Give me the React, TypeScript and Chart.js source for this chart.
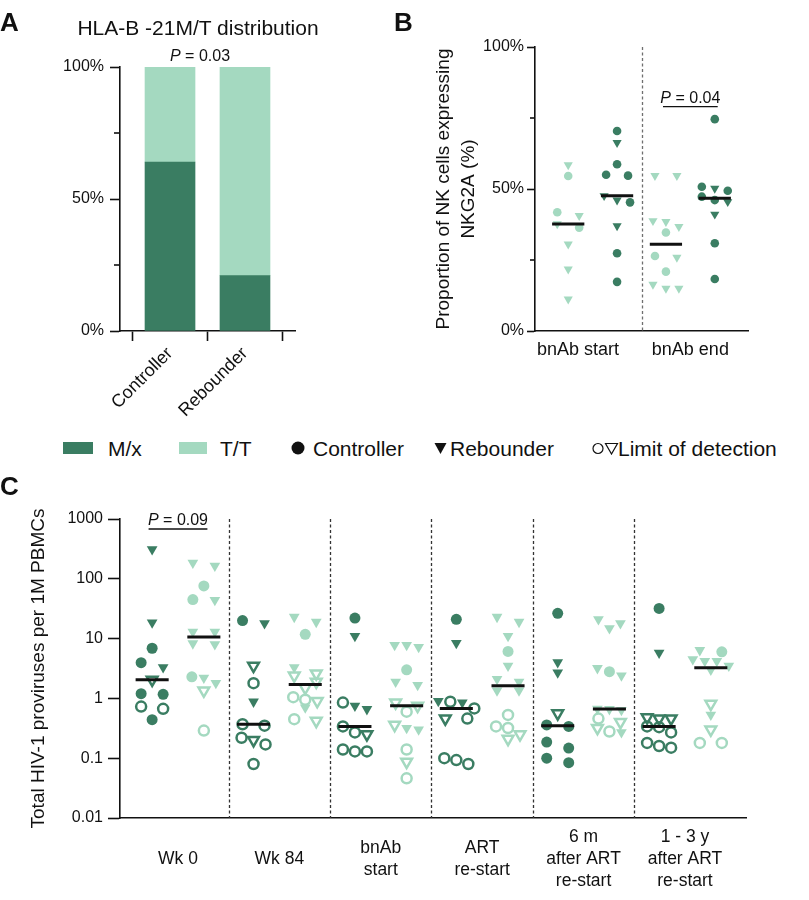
import { useEffect, useRef } from "react";
import Chart from "chart.js/auto";

// [value, kind]  kind: C = controller, R = rebounder, lower case = at limit of detection (open marker)
type Pt = [number, string];

const DARK = "#3a7d62"; // M/x
const LIGHT = "#a4d9c0"; // T/T
const INK = "#111111";
const FONT = "'Liberation Sans', Arial, Helvetica, sans-serif";

// ---- Panel A: HLA-B -21M/T distribution (% of group)
const A_GROUPS = ["Controller", "Rebounder"];
const A_MX = [64, 21];
const A_TT = [36, 79];
const A_Y_TICKS = [0, 50, 100];
const A_Y_MINOR = [25, 75];

// ---- Panel B: % NK cells expressing NKG2A
const B_TIMEPOINTS = ["bnAb start", "bnAb end"];
const B_START_TT: Pt[] = [[58.5, "R"], [54.6, "C"], [41.8, "C"], [40.6, "R"], [37.7, "R"], [36.4, "C"], [30.6, "R"], [21.8, "R"], [11.2, "R"]];
const B_START_MX: Pt[] = [[70.4, "C"], [66.3, "R"], [58.7, "C"], [55.0, "C"], [54.7, "C"], [47.6, "R"], [46.1, "R"], [45.3, "C"], [37.0, "R"], [27.4, "C"], [17.3, "C"]];
const B_END_TT: Pt[] = [[54.7, "R"], [54.7, "R"], [38.8, "R"], [38.5, "R"], [36.7, "R"], [34.7, "C"], [26.4, "C"], [25.9, "R"], [20.9, "C"], [16.4, "R"], [15.0, "R"], [15.0, "R"]];
const B_END_MX: Pt[] = [[74.6, "C"], [50.8, "C"], [50.2, "R"], [49.4, "C"], [47.3, "C"], [46.1, "C"], [45.5, "R"], [41.1, "R"], [30.9, "C"], [18.3, "C"]];
const B_Y_TICKS = [0, 50, 100];
const B_Y_MINOR = [25, 75];

// ---- Panel C: total HIV-1 proviruses per 1M PBMCs
const C_TIMEPOINTS = [["Wk 0"], ["Wk 84"], ["bnAb", "start"], ["ART", "re-start"], ["6 m", "after ART", "re-start"], ["1 - 3 y", "after ART", "re-start"]];
const C_WK0_MX: Pt[] = [[310, "R"], [18.5, "R"], [6.9, "C"], [3.95, "C"], [3.3, "R"], [2.05, "r"], [1.2, "C"], [1.17, "C"], [0.73, "c"], [0.67, "c"], [0.44, "C"]];
const C_WK0_TT: Pt[] = [[185, "R"], [165, "R"], [76, "C"], [45, "C"], [44, "R"], [13, "R"], [13, "R"], [8.3, "R"], [8.0, "R"], [2.3, "C"], [2.2, "R"], [1.8, "R"], [1.35, "r"], [0.29, "c"]];
const C_WK84_MX: Pt[] = [[20, "C"], [18, "R"], [3.5, "r"], [1.8, "c"], [0.88, "R"], [0.37, "c"], [0.35, "c"], [0.22, "c"], [0.2, "r"], [0.17, "c"], [0.08, "c"]];
const C_WK84_TT: Pt[] = [[23, "R"], [19, "R"], [11.8, "C"], [3.3, "R"], [2.6, "r"], [2.4, "r"], [1.9, "r"], [1.5, "r"], [1.05, "c"], [0.95, "c"], [0.9, "r"], [0.7, "R"], [0.45, "c"], [0.42, "r"]];
const C_BNAB_MX: Pt[] = [[22, "C"], [11, "R"], [0.85, "c"], [0.75, "R"], [0.66, "R"], [0.34, "c"], [0.27, "c"], [0.25, "r"], [0.14, "c"], [0.13, "c"], [0.13, "c"]];
const C_BNAB_TT: Pt[] = [[7.8, "R"], [7.8, "R"], [7.2, "R"], [3.0, "C"], [1.9, "R"], [1.67, "R"], [0.85, "r"], [0.75, "r"], [0.6, "c"], [0.36, "r"], [0.32, "R"], [0.3, "R"], [0.14, "c"], [0.087, "r"], [0.046, "c"]];
const C_ART_MX: Pt[] = [[21, "C"], [8.4, "R"], [0.9, "R"], [0.88, "c"], [0.85, "R"], [0.68, "c"], [0.46, "r"], [0.46, "c"], [0.1, "c"], [0.093, "c"], [0.08, "c"]];
const C_ART_TT: Pt[] = [[23, "R"], [19, "R"], [11, "R"], [6.1, "C"], [3.5, "R"], [2.1, "R"], [1.9, "R"], [1.35, "R"], [1.35, "R"], [0.53, "c"], [0.34, "c"], [0.32, "c"], [0.25, "r"], [0.21, "r"]];
const C_6M_MX: Pt[] = [[26.5, "C"], [4.0, "R"], [2.7, "R"], [0.56, "r"], [0.36, "C"], [0.34, "C"], [0.186, "C"], [0.148, "C"], [0.1, "C"], [0.084, "C"]];
const C_6M_TT: Pt[] = [[21, "R"], [18, "R"], [14.9, "R"], [3.2, "R"], [2.8, "C"], [2.4, "R"], [0.67, "R"], [0.66, "R"], [0.64, "R"], [0.46, "c"], [0.4, "r"], [0.32, "r"], [0.28, "c"], [0.27, "R"]];
const C_13Y_MX: Pt[] = [[32, "C"], [5.8, "R"], [0.48, "r"], [0.46, "r"], [0.46, "r"], [0.34, "c"], [0.33, "c"], [0.27, "c"], [0.18, "c"], [0.16, "c"], [0.15, "c"]];
const C_13Y_TT: Pt[] = [[6.4, "R"], [6.0, "C"], [4.5, "R"], [4.2, "R"], [4.2, "R"], [3.5, "R"], [3.0, "R"], [0.81, "r"], [0.53, "R"], [0.3, "r"], [0.18, "c"], [0.18, "c"]];
const C_MX = [C_WK0_MX, C_WK84_MX, C_BNAB_MX, C_ART_MX, C_6M_MX, C_13Y_MX];
const C_TT = [C_WK0_TT, C_WK84_TT, C_BNAB_TT, C_ART_TT, C_6M_TT, C_13Y_TT];
const C_Y_TICKS = [0.01, 0.1, 1, 10, 100, 1000];

const kindOf = (c: any): string => (c && c.raw && c.raw.k) || "C";
const isTri = (k: string) => k === "R" || k === "r";
const isOpen = (k: string) => k === "c" || k === "r";

function median(vals: number[]) {
  const s = [...vals].sort((a, b) => a - b);
  const m = Math.floor(s.length / 2);
  return s.length % 2 ? s[m] : (s[m - 1] + s[m]) / 2;
}

// simple row-based beeswarm, returns pixel offsets
function swarmOffsets(vals: number[], toPx: (v: number) => number, tol: number, pair: number, step: number) {
  const order = vals.map((_, i) => i).sort((a, b) => vals[b] - vals[a]);
  const out = new Array(vals.length).fill(0);
  let row: number[] = [];
  let rowTop = 0;
  const flush = () => {
    const n = row.length;
    const gap = n === 2 ? pair : step;
    row.forEach((idx, j) => {
      out[idx] = (j - (n - 1) / 2) * gap;
    });
    row = [];
  };
  for (const i of order) {
    const p = toPx(vals[i]);
    if (row.length && p - rowTop > tol) flush();
    if (!row.length) rowTop = p;
    row.push(i);
  }
  flush();
  return out;
}

interface Group { center: number; pts: Pt[]; color: string }
interface SwarmCfg { toPx: (v: number) => number; pxPerX: number; tol: number; pair: number; step: number; dotR: number; openR: number; triR: number; openW: number; half: number }

function swarmDatasets(groups: Group[], cfg: SwarmCfg) {
  const sets: any[] = [];
  groups.forEach((g) => {
    const vals = g.pts.map((p) => p[0]);
    const offs = swarmOffsets(vals, cfg.toPx, cfg.tol, cfg.pair, cfg.step);
    sets.push({
      type: "scatter",
      order: 2,
      data: g.pts.map((p, i) => ({ x: g.center + offs[i] / cfg.pxPerX, y: p[0], k: p[1] })),
      pointStyle: (c: any) => (isTri(kindOf(c)) ? "triangle" : "circle"),
      pointRotation: (c: any) => (isTri(kindOf(c)) ? 180 : 0),
      pointRadius: (c: any) => {
        const k = kindOf(c);
        return isTri(k) ? cfg.triR : isOpen(k) ? cfg.openR : cfg.dotR;
      },
      pointHoverRadius: (c: any) => (isTri(kindOf(c)) ? cfg.triR : cfg.dotR),
      pointBackgroundColor: (c: any) => (isOpen(kindOf(c)) ? "rgba(255,255,255,0)" : g.color),
      pointBorderColor: g.color,
      pointBorderWidth: (c: any) => (isOpen(kindOf(c)) ? cfg.openW : 0),
    });
    const m = median(vals);
    sets.push({
      type: "line",
      order: 0,
      showLine: true,
      data: [{ x: g.center - cfg.half, y: m }, { x: g.center + cfg.half, y: m }],
      borderColor: INK,
      borderWidth: 3,
      borderCapStyle: "butt",
      pointRadius: 0,
      fill: false,
    });
  });
  return sets;
}

const dividersPlugin = {
  id: "dividers",
  beforeDatasetsDraw(chart: any, _a: any, opts: any) {
    if (!opts || !opts.values) return;
    const { ctx, chartArea, scales } = chart;
    ctx.save();
    ctx.strokeStyle = opts.color;
    ctx.lineWidth = opts.width;
    ctx.setLineDash(opts.dash);
    for (const v of opts.values) {
      const x = Math.round(scales.x.getPixelForValue(v)) + 0.5;
      ctx.beginPath();
      ctx.moveTo(x, chartArea.top);
      ctx.lineTo(x, chartArea.bottom);
      ctx.stroke();
    }
    ctx.restore();
  },
};

const minorTicksPlugin = {
  id: "minorTicks",
  afterDraw(chart: any, _a: any, opts: any) {
    if (!opts || !opts.values) return;
    const { ctx, chartArea, scales } = chart;
    ctx.save();
    ctx.strokeStyle = INK;
    ctx.lineWidth = 1.6;
    for (const v of opts.values) {
      const y = scales.y.getPixelForValue(v);
      ctx.beginPath();
      ctx.moveTo(chartArea.left - opts.len, y);
      ctx.lineTo(chartArea.left, y);
      ctx.stroke();
    }
    ctx.restore();
  },
};

const pValuePlugin = {
  id: "pValue",
  afterDatasetsDraw(chart: any, _a: any, opts: any) {
    if (!opts || !opts.items) return;
    const { ctx, scales } = chart;
    for (const it of opts.items) {
      const x1 = scales.x.getPixelForValue(it.x1);
      const x2 = scales.x.getPixelForValue(it.x2);
      const y = scales.y.getPixelForValue(it.y);
      ctx.save();
      if (it.line) {
        ctx.strokeStyle = INK;
        ctx.lineWidth = 1.3;
        ctx.beginPath();
        ctx.moveTo(x1, y);
        ctx.lineTo(x2, y);
        ctx.stroke();
      }
      const italic = `italic 16px ${FONT}`;
      const normal = `16px ${FONT}`;
      ctx.font = italic;
      const wP = ctx.measureText("P").width;
      ctx.font = normal;
      const wR = ctx.measureText(it.rest).width;
      const sx = (x1 + x2) / 2 - (wP + wR) / 2;
      ctx.fillStyle = INK;
      ctx.textAlign = "left";
      ctx.textBaseline = "alphabetic";
      ctx.font = italic;
      ctx.fillText("P", sx, y + it.dy);
      ctx.font = normal;
      ctx.fillText(it.rest, sx + wP, y + it.dy);
      ctx.restore();
    }
  },
};

const PLUGINS = [dividersPlugin, minorTicksPlugin, pValuePlugin];

const axisLine = { color: INK, width: 1.6 };

function configA(): any {
  return {
    type: "bar",
    data: {
      datasets: [
        { label: "M/x", data: A_MX.map((v, i) => ({ x: i + 1, y: v })), backgroundColor: DARK, barThickness: 50 },
        { label: "T/T", data: A_TT.map((v, i) => ({ x: i + 1, y: v })), backgroundColor: LIGHT, barThickness: 50 },
      ],
    },
    plugins: PLUGINS,
    options: {
      animation: false,
      responsive: true,
      maintainAspectRatio: false,
      events: [],
      layout: { padding: { top: 67, right: 35, bottom: 0, left: 0 } },
      plugins: {
        legend: { display: false },
        tooltip: { enabled: false },
        minorTicks: { values: A_Y_MINOR, len: 6 },
        pValue: { items: [{ x1: 1.4, x2: 1.4, y: 100, dy: -6, rest: " = 0.03", line: false }] },
      },
      scales: {
        x: {
          type: "linear",
          stacked: true,
          offset: false,
          min: 0.333,
          max: 2.667,
          afterFit: (s: any) => { s.height = 89; },
          afterBuildTicks: (s: any) => { s.ticks = A_GROUPS.map((_, i) => ({ value: i + 1 })); },
          ticks: {
            autoSkip: false,
            minRotation: 45,
            maxRotation: 45,
            padding: 2,
            color: INK,
            font: { family: FONT, size: 18 },
            callback: (_v: any, i: number) => A_GROUPS[i],
          },
          grid: { drawOnChartArea: false, tickLength: 10, tickColor: INK, tickWidth: 1.6 },
          border: axisLine,
        },
        y: {
          stacked: true,
          min: 0,
          max: 100,
          afterFit: (s: any) => { s.width = 120; },
          afterBuildTicks: (s: any) => { s.ticks = A_Y_TICKS.map((v) => ({ value: v })); },
          ticks: { color: INK, padding: 6, font: { family: FONT, size: 16 }, callback: (v: any) => `${v}%` },
          grid: { drawOnChartArea: false, tickLength: 10, tickColor: INK, tickWidth: 1.6 },
          border: axisLine,
        },
      },
    },
  };
}

function configB(): any {
  const groups: Group[] = [
    { center: 0.75, pts: B_START_TT, color: LIGHT },
    { center: 1.25, pts: B_START_MX, color: DARK },
    { center: 1.75, pts: B_END_TT, color: LIGHT },
    { center: 2.25, pts: B_END_MX, color: DARK },
  ];
  const datasets = swarmDatasets(groups, {
    toPx: (v) => -v * 2.84, pxPerX: 98, tol: 8, pair: 22, step: 13,
    dotR: 4.3, openR: 4, triR: 5.3, openW: 2, half: 0.165,
  });
  return {
    type: "scatter",
    data: { datasets },
    plugins: PLUGINS,
    options: {
      animation: false,
      responsive: true,
      maintainAspectRatio: false,
      events: [],
      layout: { padding: { top: 47, right: 61, bottom: 0, left: 0 } },
      plugins: {
        legend: { display: false },
        tooltip: { enabled: false },
        dividers: { values: [1.5], color: "#6f6f6f", width: 1.3, dash: [3, 2.5] },
        minorTicks: { values: B_Y_MINOR, len: 5 },
        pValue: { items: [{ x1: 1.72, x2: 2.28, y: 79, dy: -3.5, rest: " = 0.04", line: true }] },
      },
      scales: {
        x: {
          type: "linear",
          min: 0.41,
          max: 2.59,
          afterFit: (s: any) => { s.height = 89; },
          afterBuildTicks: (s: any) => { s.ticks = [{ value: 0.85 }, { value: 2.0 }]; },
          ticks: {
            autoSkip: false,
            maxRotation: 0,
            padding: 8,
            color: INK,
            font: { family: FONT, size: 18 },
            callback: (_v: any, i: number) => B_TIMEPOINTS[i],
          },
          grid: { display: true, drawOnChartArea: false, drawTicks: false },
          border: axisLine,
        },
        y: {
          min: 0,
          max: 100,
          afterFit: (s: any) => { s.width = 135; },
          afterBuildTicks: (s: any) => { s.ticks = B_Y_TICKS.map((v) => ({ value: v })); },
          ticks: { color: INK, padding: 3, font: { family: FONT, size: 16 }, callback: (v: any) => `${v}%` },
          grid: { drawOnChartArea: false, tickLength: 8, tickColor: INK, tickWidth: 1.6 },
          border: axisLine,
          title: {
            display: true,
            text: ["Proportion of NK cells expressing", "NKG2A (%)"],
            color: INK,
            font: { family: FONT, size: 19, lineHeight: 1.3 },
            padding: { top: 31.5, bottom: 0 },
          },
        },
      },
    },
  };
}

function configC(): any {
  const groups: Group[] = [];
  C_TIMEPOINTS.forEach((_, t) => {
    groups.push({ center: t + 1 - 0.255, pts: C_MX[t], color: DARK });
    groups.push({ center: t + 1 + 0.255, pts: C_TT[t], color: LIGHT });
  });
  const datasets = swarmDatasets(groups, {
    toPx: (v) => -Math.log10(v) * 59.8, pxPerX: 101.4, tol: 8, pair: 22, step: 12,
    dotR: 5.5, openR: 5, triR: 6.2, openW: 2.5, half: 0.163,
  });
  return {
    type: "scatter",
    data: { datasets },
    plugins: PLUGINS,
    options: {
      animation: false,
      responsive: true,
      maintainAspectRatio: false,
      events: [],
      layout: { padding: { top: 39, right: 63, bottom: 0, left: 0 } },
      plugins: {
        legend: { display: false },
        tooltip: { enabled: false },
        dividers: { values: [1.5, 2.5, 3.5, 4.5, 5.5], color: "#333333", width: 1.3, dash: [3, 2.5] },
        pValue: { items: [{ x1: 0.71, x2: 1.29, y: 681, dy: -3.5, rest: " = 0.09", line: true }] },
      },
      scales: {
        x: {
          type: "linear",
          min: 0.428,
          max: 6.602,
          afterFit: (s: any) => { s.height = 82; },
          afterBuildTicks: (s: any) => { s.ticks = C_TIMEPOINTS.map((_, i) => ({ value: i + 1 })); },
          ticks: {
            autoSkip: false,
            maxRotation: 0,
            padding: 19,
            crossAlign: "center",
            color: INK,
            font: { family: FONT, size: 17.5, lineHeight: 1.25 },
            callback: (_v: any, i: number) => C_TIMEPOINTS[i],
          },
          grid: { display: true, drawOnChartArea: false, drawTicks: false },
          border: axisLine,
        },
        y: {
          type: "logarithmic",
          min: 0.01,
          max: 1000,
          afterFit: (s: any) => { s.width = 120; },
          afterBuildTicks: (s: any) => { s.ticks = C_Y_TICKS.map((v) => ({ value: v })); },
          ticks: { autoSkip: false, color: INK, padding: 5, font: { family: FONT, size: 16 }, callback: (v: any) => String(v) },
          grid: { drawOnChartArea: false, tickLength: 12, tickColor: INK, tickWidth: 1.6 },
          border: axisLine,
          title: {
            display: true,
            text: "Total HIV-1 proviruses per 1M PBMCs",
            color: INK,
            font: { family: FONT, size: 19, lineHeight: 1.3 },
            padding: { top: 26, bottom: 0 },
          },
        },
      },
    },
  };
}

function ChartBox({ left, top, width, height, make }: { left: number; top: number; width: number; height: number; make: () => any }) {
  const ref = useRef<HTMLCanvasElement>(null);
  useEffect(() => {
    if (!ref.current) return;
    const chart = new Chart(ref.current, make());
    return () => chart.destroy();
  }, [make]);
  return (
    <div style={{ position: "absolute", left, top, width, height }}>
      <canvas ref={ref} />
    </div>
  );
}

const textStyle = (left: number, top: number, size: number, extra: any = {}): any => ({
  position: "absolute",
  left,
  top,
  transform: "translateY(-50%)",
  fontFamily: FONT,
  fontSize: size,
  lineHeight: 1,
  color: INK,
  whiteSpace: "nowrap",
  ...extra,
});

function Legend() {
  const y = 448;
  return (
    <>
      <div style={{ position: "absolute", left: 63, top: 442, width: 30, height: 12, background: DARK }} />
      <div style={textStyle(108, y, 21)}>M/x</div>
      <div style={{ position: "absolute", left: 179, top: 442, width: 28, height: 12, background: LIGHT }} />
      <div style={textStyle(220, y, 21)}>T/T</div>
      <svg style={{ position: "absolute", left: 291, top: y - 7 }} width={14} height={14}>
        <circle cx={7} cy={7} r={6.5} fill={INK} />
      </svg>
      <div style={textStyle(313, y, 21)}>Controller</div>
      <svg style={{ position: "absolute", left: 434, top: y - 6 }} width={13} height={13}>
        <polygon points="0.5,1 12.5,1 6.5,12" fill={INK} />
      </svg>
      <div style={textStyle(450, y, 21)}>Rebounder</div>
      <svg style={{ position: "absolute", left: 592, top: y - 6 }} width={27} height={13}>
        <circle cx={6} cy={6.5} r={5} fill="none" stroke={INK} strokeWidth={1.2} />
        <polygon points="13.5,1.5 25.5,1.5 19.5,12" fill="none" stroke={INK} strokeWidth={1.2} />
      </svg>
      <div style={textStyle(618, y, 21)}>Limit of detection</div>
    </>
  );
}

export default function App() {
  return (
    <div style={{ position: "absolute", left: 0, top: 0, width: 809, height: 900, background: "#fff", overflow: "hidden" }}>
      <ChartBox left={0} top={0} width={330} height={420} make={configA} />
      <ChartBox left={400} top={0} width={409} height={420} make={configB} />
      <ChartBox left={0} top={480} width={809} height={420} make={configC} />
      <div style={textStyle(0, 22, 26, { fontWeight: 700 })}>A</div>
      <div style={textStyle(394, 22, 26, { fontWeight: 700 })}>B</div>
      <div style={textStyle(0, 486, 26, { fontWeight: 700 })}>C</div>
      <div style={textStyle(198, 27, 21, { transform: "translate(-50%, -50%)" })}>HLA-B -21M/T distribution</div>
      <Legend />
    </div>
  );
}
